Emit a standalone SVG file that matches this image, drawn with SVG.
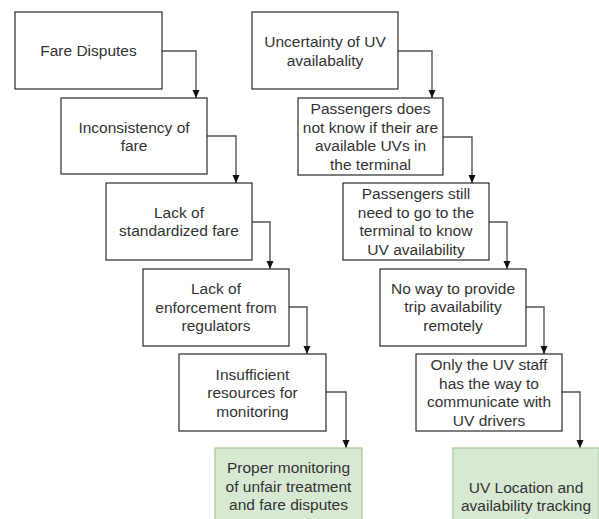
<svg xmlns="http://www.w3.org/2000/svg" width="599" height="519" viewBox="0 0 599 519">
<defs>
<marker id="ah" markerUnits="userSpaceOnUse" markerWidth="8" markerHeight="8" viewBox="0 0 8 8" refX="8" refY="4" orient="auto">
<path d="M0,0.5 L8,4 L0,7.5 Z" fill="#111"/>
</marker>
<style>
.box{fill:#fff;stroke:#2a2a2a;stroke-width:1.2}
.goal{fill:#d7e9d3;stroke:#a8c79b;stroke-width:1.2}
text{font-family:"Liberation Sans",Arial,sans-serif;font-size:15.5px;fill:#333;text-anchor:middle}
.c{fill:none;stroke:#555;stroke-width:1.4;marker-end:url(#ah)}
</style>
</defs>
<rect width="599" height="519" fill="#fff"/>
<g id="connectors">
<path class="c" d="M162,51 H196 V98"/>
<path class="c" d="M207,136 H236 V183"/>
<path class="c" d="M252,222 H270 V269"/>
<path class="c" d="M289,307 H307 V354"/>
<path class="c" d="M326,392 H346 V448"/>
<path class="c" d="M398,51 H432 V98"/>
<path class="c" d="M443,137 H472 V183"/>
<path class="c" d="M489,222 H507 V269"/>
<path class="c" d="M526,307 H544 V354"/>
<path class="c" d="M562,392 H580 V448"/>
</g>
<g id="fare-disputes"><rect class="box" x="15" y="12" width="147" height="77"/><text x="88.5" y="56">Fare Disputes</text></g>
<g id="inconsistency"><rect class="box" x="61" y="98" width="146" height="76"/><text x="134" y="132.5">Inconsistency of</text><text x="134" y="151">fare</text></g>
<g id="lack-standardized"><rect class="box" x="106" y="183" width="146" height="77"/><text x="179" y="217.5">Lack of</text><text x="179" y="236">standardized fare</text></g>
<g id="lack-enforcement"><rect class="box" x="143" y="269" width="146" height="77"/><text x="216" y="294">Lack of</text><text x="216" y="312.5">enforcement from</text><text x="216" y="331">regulators</text></g>
<g id="insufficient"><rect class="box" x="179" y="354" width="147" height="77"/><text x="252.5" y="379.5">Insufficient</text><text x="252.5" y="398">resources for</text><text x="252.5" y="416.5">monitoring</text></g>
<g id="proper-monitoring"><rect class="goal" x="215" y="448" width="147" height="77"/><text x="288.5" y="473">Proper monitoring</text><text x="288.5" y="491.5">of unfair treatment</text><text x="288.5" y="510">and fare disputes</text></g>
<g id="uncertainty"><rect class="box" x="252" y="12" width="146" height="77"/><text x="325" y="47">Uncertainty of UV</text><text x="325" y="65.5">availabality</text></g>
<g id="passengers-not-know"><rect class="box" x="298" y="98" width="145" height="77"/><text x="370.5" y="114">Passengers does</text><text x="370.5" y="132.5">not know if their are</text><text x="370.5" y="151">available UVs in</text><text x="370.5" y="169.5">the terminal</text></g>
<g id="passengers-still"><rect class="box" x="343" y="183" width="146" height="77"/><text x="416" y="199">Passengers still</text><text x="416" y="217.5">need to go to the</text><text x="416" y="236">terminal to know</text><text x="416" y="254.5">UV availability</text></g>
<g id="no-way"><rect class="box" x="380" y="269" width="146" height="77"/><text x="453" y="293.5">No way to provide</text><text x="453" y="312">trip availability</text><text x="453" y="330.5">remotely</text></g>
<g id="only-staff"><rect class="box" x="416" y="354" width="146" height="77"/><text x="489" y="370">Only the UV staff</text><text x="489" y="388.5">has the way to</text><text x="489" y="407">communicate with</text><text x="489" y="425.5">UV drivers</text></g>
<g id="uv-tracking"><rect class="goal" x="453" y="448" width="146" height="96"/><text x="526" y="492.5">UV Location and</text><text x="526" y="511">availability tracking</text></g>
</svg>
